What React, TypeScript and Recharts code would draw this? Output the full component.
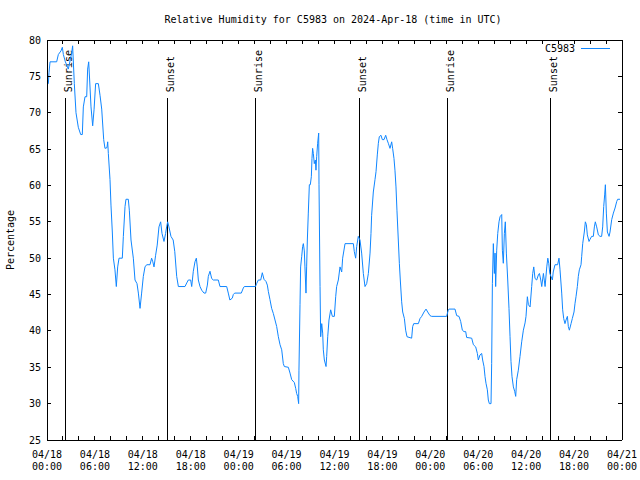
import { LineChart, Line, XAxis, YAxis, ReferenceLine } from 'recharts';

const FONT = '"DejaVu Sans Mono", monospace';
const BLUE = '#0f86ff';

// hours since 2024-04-18 00:00 UTC
const hours = [
  0, 0.17, 0.25, 0.38, 1.21, 1.42, 1.75, 1.92, 2.05, 2.3, 2.67, 3.09, 3.21, 3.42, 3.63, 3.92, 4.22, 4.42, 4.55, 4.76,
  4.97, 5.09, 5.22, 5.34, 5.51, 5.72, 5.89, 6.09, 6.43, 6.64, 6.85, 7.1, 7.26, 7.51, 7.6, 7.68, 7.89, 8.01, 8.18, 8.31,
  8.51, 8.68, 8.85, 9.02, 9.43, 9.56, 9.77, 9.89, 10.18, 10.31, 10.52, 10.81, 11.02, 11.27, 11.44, 11.65, 11.85, 12.06, 12.27, 12.48,
  12.9, 13.1, 13.25, 13.4, 13.6, 13.8, 14.02, 14.23, 14.4, 14.65, 14.85, 14.98, 15.11, 15.27, 15.52, 15.8, 16.0, 16.24, 16.45, 17.28,
  17.5, 17.7, 17.99, 18.12, 18.32, 18.53, 18.7, 18.82, 18.95, 19.16, 19.37, 19.66, 19.87, 20.08, 20.2, 20.41, 20.62, 20.83, 21.45, 21.66,
  22.5, 22.7, 22.9, 23.2, 23.33, 23.5, 24.33, 24.58, 24.71, 26.1,
  26.25, 26.46, 26.76, 26.96, 27.17, 27.42, 27.59, 27.72, 27.92, 28.13, 28.34, 28.55, 28.76, 28.97, 29.18, 29.39, 29.59, 29.72, 30.22, 30.43,
  30.64, 30.97, 31.14, 31.26, 31.39, 31.51, 31.55, 31.68, 31.76, 31.89, 32.01, 32.1, 32.22, 32.3, 32.43, 32.51, 32.6, 32.72, 32.85, 32.97,
  33.1, 33.18, 33.26, 33.35, 33.47, 33.6, 33.68, 33.77, 33.89, 34.02, 34.06, 34.19, 34.27, 34.4, 34.52, 34.6, 34.73, 34.94, 35.02, 35.15,
  35.31, 35.52, 35.73, 35.98, 36.15, 36.27, 36.48, 36.69, 36.9, 37.02, 37.23, 37.32, 38.36,
  38.48, 38.65, 38.78, 38.98, 39.19, 39.4, 39.61, 39.82, 40.03, 40.24, 40.45, 40.57, 40.65, 40.86, 41.07, 41.2, 41.36, 41.49, 41.61, 41.82,
  41.99, 42.2, 42.41, 42.57, 42.74, 42.95, 43.16, 43.28, 43.45, 43.57, 43.7, 43.82, 43.99, 44.12, 44.24, 44.41, 44.54, 44.75, 44.91, 45.08,
  45.66, 45.79, 45.92, 46.5, 46.71, 46.92, 47.21, 47.46, 47.67, 47.96, 48.17, 50.04, 50.25,
  50.34, 51.09, 51.3, 51.59, 51.8, 52.01, 52.22, 52.43, 52.55, 53.18, 53.39, 53.68, 53.89, 54.01, 54.22, 54.43, 54.55, 54.72, 54.85, 54.97,
  55.14, 55.26, 55.39, 55.6, 55.68, 55.77, 55.89, 56.02, 56.1, 56.18, 56.31, 56.44, 56.6, 56.73, 56.94, 57.02, 57.14, 57.27, 57.39, 57.52,
  57.69, 57.85, 57.98, 58.1, 58.23, 58.4, 58.56, 58.69, 58.81, 59.02, 59.23, 59.44, 59.65, 59.86, 59.98, 60.15, 60.28, 60.49, 60.69, 60.82,
  60.95, 61.11, 61.32, 61.53, 61.66, 61.83, 61.95, 62.16, 62.37, 62.58, 62.71, 62.83, 62.96,
  63.11, 63.28, 63.39, 63.61, 63.94, 64.11, 64.24, 64.45, 64.57, 64.7, 64.86, 64.99, 65.16, 65.28, 65.41, 65.62, 65.78, 65.99, 66.12, 66.24,
  66.41, 66.53, 66.66, 66.87, 66.95, 67.08, 67.28, 67.41, 67.54, 67.66, 67.87, 68.0, 68.2, 68.41, 68.54, 68.66, 68.83, 69.04, 69.25, 69.45,
  69.58, 69.71, 69.83, 69.92, 70.04, 70.17, 70.38, 70.5, 70.71, 70.92, 71.13, 71.34, 71.46, 71.75,
];

// relative humidity, %
const humidity = [
  74, 74, 75.5, 77, 77, 78, 78.5, 79, 78, 77, 76, 78.2, 79.2, 74, 70, 68, 67, 67, 70.8, 72.2,
  72.2, 76, 77, 74.5, 70.8, 68.2, 70.4, 74, 74, 72.4, 70.5, 66.3, 65.1, 65.2, 66, 64.4, 60.8, 57.3, 53.6, 50,
  48.4, 46.1, 48.8, 50, 50, 53, 57.1, 58.1, 58.1, 56.6, 52.5, 50, 47, 46.5, 45.2, 43.1, 45.2, 47.5, 48.8, 49.1,
  49.1, 50, 49.5, 48.8, 50.4, 51.8, 54.3, 55, 53.4, 52.3, 53.4, 54.3, 55, 54.3, 53, 52.5, 50.9, 47.5, 46.1, 46.1,
  46.6, 47, 47, 46.1, 48.2, 49.5, 50, 48.8, 47, 46.1, 45.6, 45.2, 45.2, 46.3, 47.5, 48.2, 47.2, 47, 47, 46.1,
  46.1, 45.2, 44.25, 44.5, 45, 45.2, 45.2, 45.9, 46.1, 46.1,
  46.5, 47, 47, 48, 47.1, 46.8, 46.3, 45.4, 44.3, 43.1, 42.4, 41.5, 40.6, 39.2, 38.1, 37.4, 35.5, 35.1, 35, 34.2,
  33.3, 32.9, 32.1, 31.4, 31, 30, 34.6, 43.6, 48.8, 50.2, 51.6, 52, 51, 48.8, 45.2, 48.8, 52.5, 56.2, 60.1, 60.1,
  61.2, 63.7, 65.1, 64.4, 63, 63.5, 62.1, 64, 65.8, 67.2, 60.1, 46.1, 39.2, 41, 39.7, 37.4, 36, 35.1, 36.5, 39.2,
  41.5, 42.9, 42, 42, 44.7, 46.1, 47, 48.8, 48.1, 50, 51.4, 52, 52,
  50.9, 50, 51.6, 53, 52.5, 50.7, 47.9, 46.1, 46.5, 47.9, 50.7, 53.4, 55.9, 59.1, 60.8, 61.9, 64.2, 65.8, 66.7, 66.9,
  66.3, 66.3, 66.9, 66.3, 65.8, 65.1, 66, 65.1, 63.7, 62.1, 59.8, 56.6, 52.5, 49.3, 47, 44, 42.6, 41.7, 40.1, 39.2,
  39, 40.6, 41, 41, 41.7, 42, 42.6, 43, 42.6, 42.1, 42, 42, 42.9,
  43, 43, 42.1, 42, 41.3, 40.1, 39.9, 39.9, 39.1, 39, 38.1, 37.8, 36.9, 36, 36.7, 36.9, 36, 35.1, 33.7, 32.8,
  31.9, 30.5, 30, 30, 35.5, 46.5, 52, 47.9, 50.7, 46.1, 51.1, 53.4, 55, 55.7, 56, 51.1, 49.3, 53.4, 55, 50.7,
  47, 43.1, 39.2, 35.8, 33.7, 32.3, 31.7, 31, 33.3, 34.6, 36.5, 38.5, 40.1, 41.1, 42, 44.7, 43.6, 43.3, 46.1, 47.9,
  48.8, 47.2, 47, 47.7, 47.9, 47, 46.1, 47.9, 46.1, 48.8, 50, 49.3, 47.9,
  47.5, 47, 48.1, 49.1, 49.1, 50, 48.4, 45.2, 42.9, 41.7, 41, 41.5, 42, 40.6, 40.1, 41, 41.7, 42.6, 43.8, 44.7,
  46.1, 47.5, 48.4, 49.1, 50.2, 52, 53.6, 55, 54.6, 53.2, 52.3, 52.6, 53, 53, 54.3, 55, 54.3, 53.2, 53, 53,
  54.3, 57.1, 58.7, 60.1, 56.2, 53.6, 53, 53.6, 55.3, 56.2, 56.9, 57.8, 58.1, 58.1,
];

const sunHours = [2.3, 15.07, 26.17, 39.1, 50.2, 63.1];
const sunNames = ['Sunrise', 'Sunset', 'Sunrise', 'Sunset', 'Sunrise', 'Sunset'];

const xTicks = Array.from({ length: 37 }, (_, i) => i * 2);
const labelHours = [0, 6, 12, 18, 24, 30, 36, 42, 48, 54, 60, 66, 72];
const labelDates = ['04/18', '04/18', '04/18', '04/18', '04/19', '04/19', '04/19', '04/19', '04/20', '04/20', '04/20', '04/20', '04/21'];
const labelTimes = ['00:00', '06:00', '12:00', '18:00', '00:00', '06:00', '12:00', '18:00', '00:00', '06:00', '12:00', '18:00', '00:00'];
const yTicks = [25, 30, 35, 40, 45, 50, 55, 60, 65, 70, 75, 80];

const chartData = hours.map((h, i) => ({ h, rh: humidity[i] }));

const txt = { fontFamily: FONT, fontSize: 10, fill: '#000' };
const frame = { stroke: '#000', shapeRendering: 'crispEdges' };

const BottomTick = (props: any) => {
  const { x, y, payload } = props;
  const idx = labelHours.indexOf(payload.value);
  return (
    <g>
      <line x1={x} y1={y} x2={x} y2={y - 4} {...frame} />
      {idx >= 0 && (
        <text x={x} y={y + 18} textAnchor="middle" {...txt}>
          <tspan x={x}>{labelDates[idx]}</tspan>
          <tspan x={x} dy={12}>{labelTimes[idx]}</tspan>
        </text>
      )}
    </g>
  );
};

const TopTick = (props: any) => (
  <line x1={props.x} y1={props.y} x2={props.x} y2={props.y + 4} {...frame} />
);

const LeftTick = (props: any) => {
  const { x, y, payload } = props;
  return (
    <g>
      <line x1={x} y1={y} x2={x + 4} y2={y} {...frame} />
      <text x={x - 6} y={y + 3.5} textAnchor="end" {...txt}>{payload.value}</text>
    </g>
  );
};

const RightTick = (props: any) => (
  <line x1={props.x} y1={props.y} x2={props.x - 4} y2={props.y} {...frame} />
);

const sunLabel = (name: string) => (p: any) => {
  const vb = p.viewBox || {};
  const x = vb.x + 6.5;
  const y = vb.y - 6;
  return (
    <text x={x} y={y} transform={`rotate(-90 ${x} ${y})`} textAnchor="start" {...txt}>
      {name}
    </text>
  );
};

export default function App() {
  return (
    <div style={{ position: 'absolute', left: 0, top: 0, width: 640, height: 480, background: '#fff' }}>
      <LineChart width={640} height={480} data={chartData} margin={{ top: 0, right: 0, bottom: 0, left: 0 }}>
        <XAxis
          dataKey="h"
          type="number"
          domain={[0, 72]}
          ticks={xTicks}
          interval={0}
          allowDataOverflow
          height={40}
          tickSize={0}
          tickMargin={0}
          axisLine={frame}
          tick={BottomTick}
        />
        <XAxis
          xAxisId="top"
          orientation="top"
          dataKey="h"
          type="number"
          domain={[0, 72]}
          ticks={xTicks}
          interval={0}
          allowDataOverflow
          height={40}
          tickSize={0}
          tickMargin={0}
          axisLine={frame}
          tick={TopTick}
        />
        <YAxis
          type="number"
          domain={[25, 80]}
          ticks={yTicks}
          interval={0}
          allowDataOverflow
          width={47}
          tickSize={0}
          tickMargin={0}
          axisLine={frame}
          tick={LeftTick}
        />
        <YAxis
          yAxisId="r"
          orientation="right"
          type="number"
          domain={[25, 80]}
          ticks={yTicks}
          interval={0}
          allowDataOverflow
          width={18}
          tickSize={0}
          tickMargin={0}
          axisLine={frame}
          tick={RightTick}
        />
        {sunHours.map((h, i) => (
          <ReferenceLine
            key={i}
            segment={[{ x: h, y: 72 }, { x: h, y: 25 }]}
            stroke="#000"
            strokeWidth={1}
            shapeRendering="crispEdges"
            label={sunLabel(sunNames[i])}
          />
        ))}
        <Line
          type="linear"
          dataKey="rh"
          stroke={BLUE}
          strokeWidth={1}
          dot={false}
          activeDot={false}
          isAnimationActive={false}
        />
      </LineChart>
      <svg width={640} height={480} style={{ position: 'absolute', left: 0, top: 0, pointerEvents: 'none' }}>
        <text x={333} y={22.5} textAnchor="middle" {...txt}>
          Relative Humidity for C5983 on 2024-Apr-18 (time in UTC)
        </text>
        <text x={14} y={240} textAnchor="middle" transform="rotate(-90 14 240)" {...txt}>
          Percentage
        </text>
        <text x={575} y={51.5} textAnchor="end" {...txt}>C5983</text>
        <line x1={581} y1={48} x2={610} y2={48} stroke={BLUE} strokeWidth={1} shapeRendering="crispEdges" />
      </svg>
    </div>
  );
}
